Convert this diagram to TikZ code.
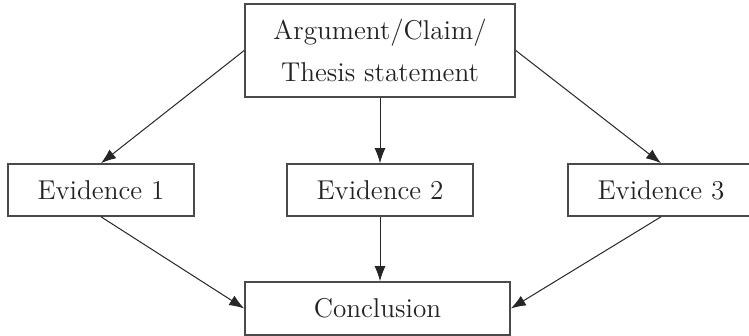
\documentclass[tikz,border=0pt]{standalone}
\usetikzlibrary{arrows.meta, positioning}
\definecolor{cline}{HTML}{4A4A4A}
\definecolor{ctext}{HTML}{222222}
\tikzset{
  every picture/.style={font=\fontsize{13.6}{21}\selectfont, line width=0.5pt},
  box/.style={draw=cline, line width=0.8pt, fill=white, text=ctext, align=center, inner sep=2pt},
  arrow/.style={-{Latex[length=7.5pt, width=5.5pt]}, draw=black!85, line width=0.5pt},
}
\begin{document}
\begin{tikzpicture}[x=0.5pt, y=-0.5pt,
  ev/.style={box, minimum width=93pt, minimum height=26pt},
  big/.style={box, minimum width=135pt, minimum height=46.5pt}]
  \useasboundingbox (0,0) rectangle (749,336);
  \node[big] (thesis) at (380,50.5) {Argument/Claim/\\Thesis statement};
  \node[ev] (ev1) at (101,190) {Evidence 1};
  \node[ev] (ev2) at (380,190) {Evidence 2};
  \node[ev] (ev3) at (661,190) {Evidence 3};
  \node[box, minimum width=132.5pt, minimum height=26.5pt] (concl) at (377.5,308.5) {Conclusion};
  \draw[arrow] (thesis.west) -- (ev1.north);
  \draw[arrow] (thesis.south -| ev2.north) -- (ev2.north);
  \draw[arrow] (thesis.east) -- (ev3.north);
  \draw[arrow] (ev1.south) -- (concl.west);
  \draw[arrow] (ev2.south) -- (concl.north -| ev2.south);
  \draw[arrow] (ev3.south) -- (concl.east);
\end{tikzpicture}
\end{document}
